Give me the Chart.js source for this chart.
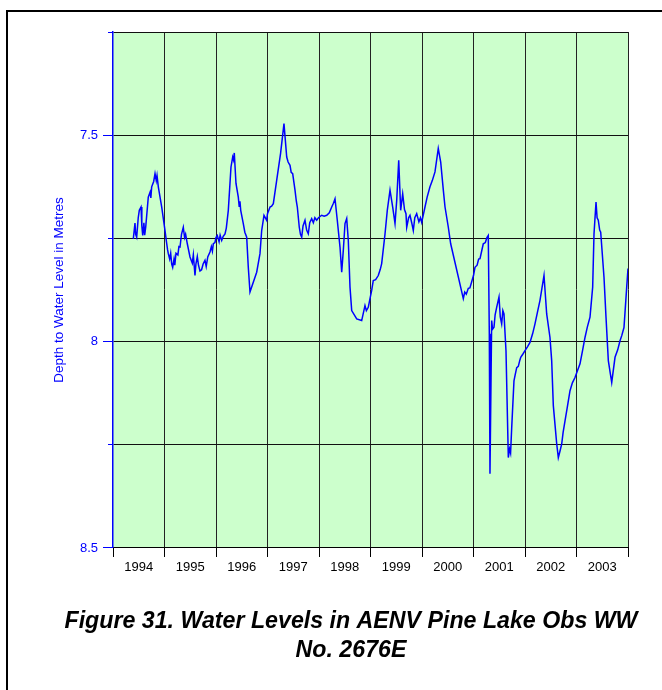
<!DOCTYPE html>
<html>
<head>
<meta charset="utf-8">
<script src="https://cdn.jsdelivr.net/npm/chart.js@4"></script>
<style>
  body { margin: 0; width: 662px; height: 690px; overflow: hidden; background: #fff; position: relative; }
  #frame { position: absolute; left: 6px; top: 10px; width: 700px; height: 700px; border-top: 2px solid #000; border-left: 2px solid #000; }
  #chart { position: absolute; left: 0; top: 0; }
</style>
</head>
<body>
<div id="frame"></div>
<canvas id="chart" width="702" height="690"></canvas>
<script>
// decimal year of each reading
var years = [
  1994.394, 1994.427, 1994.440, 1994.460, 1994.490, 1994.511, 1994.544, 1994.560, 1994.577, 1994.600,
  1994.615, 1994.635, 1994.685, 1994.720, 1994.735, 1994.751, 1994.790, 1994.816, 1994.840, 1994.855,
  1994.880, 1994.946, 1995.010, 1995.040, 1995.060, 1995.074, 1995.100, 1995.120, 1995.140, 1995.159,
  1995.185, 1995.200, 1995.223, 1995.260, 1995.280, 1995.301, 1995.330, 1995.365, 1995.390, 1995.410,
  1995.443, 1995.495, 1995.540, 1995.560, 1995.592, 1995.610, 1995.637, 1995.660, 1995.689, 1995.720,
  1995.750, 1995.786, 1995.810, 1995.840, 1995.883, 1995.910, 1995.930, 1995.948, 1995.980, 1996.000,
  1996.025, 1996.060, 1996.080, 1996.111, 1996.140, 1996.175, 1996.200, 1996.239, 1996.291, 1996.324,
  1996.340, 1996.355, 1996.388, 1996.433, 1996.450, 1996.465, 1996.480, 1996.530, 1996.560, 1996.596,
  1996.627, 1996.660, 1996.790, 1996.854, 1996.887, 1996.932, 1996.984, 1997.000, 1997.049, 1997.080,
  1997.113, 1997.179, 1997.254, 1997.320, 1997.373, 1997.400, 1997.437, 1997.460, 1997.489, 1997.534,
  1997.560, 1997.579, 1997.617, 1997.640, 1997.664, 1997.690, 1997.728, 1997.760, 1997.792, 1997.820,
  1997.858, 1997.890, 1997.920, 1997.955, 1997.990, 1998.052, 1998.100, 1998.150, 1998.200, 1998.247,
  1998.280, 1998.311, 1998.355, 1998.408, 1998.441, 1998.472, 1998.505, 1998.538, 1998.569, 1998.602,
  1998.635, 1998.732, 1998.829, 1998.893, 1998.920, 1998.957, 1999.000, 1999.023, 1999.054, 1999.100,
  1999.151, 1999.190, 1999.217, 1999.282, 1999.326, 1999.379, 1999.431, 1999.476, 1999.509, 1999.548,
  1999.586, 1999.625, 1999.660, 1999.689, 1999.703, 1999.740, 1999.767, 1999.800, 1999.831, 1999.860,
  1999.897, 1999.940, 1999.970, 1999.994, 2000.058, 2000.100, 2000.155, 2000.200, 2000.252, 2000.316,
  2000.363, 2000.414, 2000.447, 2000.511, 2000.557, 2000.802, 2000.830, 2000.860, 2000.899, 2000.930,
  2000.965, 2001.000, 2001.029, 2001.070, 2001.100, 2001.126, 2001.160, 2001.190, 2001.230, 2001.260,
  2001.287, 2001.307, 2001.320, 2001.353, 2001.370, 2001.398, 2001.420, 2001.450, 2001.495, 2001.520,
  2001.547, 2001.570, 2001.592, 2001.631, 2001.676, 2001.700, 2001.720, 2001.742, 2001.786, 2001.810,
  2001.839, 2001.870, 2001.900, 2001.917, 2001.960, 2002.000, 2002.050, 2002.097, 2002.150, 2002.194,
  2002.240, 2002.291, 2002.330, 2002.369, 2002.421, 2002.485, 2002.518, 2002.550, 2002.616, 2002.647,
  2002.680, 2002.713, 2002.740, 2002.777, 2002.820, 2002.874, 2002.920, 2002.971, 2003.020, 2003.068,
  2003.120, 2003.165, 2003.210, 2003.262, 2003.314, 2003.340, 2003.379, 2003.400, 2003.423, 2003.450,
  2003.470, 2003.534, 2003.573, 2003.618, 2003.660, 2003.684, 2003.748, 2003.800, 2003.845, 2003.880,
  2003.922, 2003.975, 2004.000
];
// depth to water level (m)
var depths = [
  7.751, 7.713, 7.740, 7.747, 7.700, 7.682, 7.674, 7.720, 7.743, 7.712,
  7.742, 7.723, 7.650, 7.638, 7.652, 7.625, 7.612, 7.593, 7.610, 7.598,
  7.625, 7.674, 7.731, 7.760, 7.778, 7.787, 7.800, 7.786, 7.812, 7.820,
  7.800, 7.815, 7.786, 7.790, 7.770, 7.771, 7.740, 7.723, 7.748, 7.740,
  7.763, 7.795, 7.810, 7.790, 7.840, 7.812, 7.794, 7.815, 7.829, 7.826,
  7.812, 7.803, 7.818, 7.795, 7.783, 7.770, 7.781, 7.763, 7.760, 7.748,
  7.743, 7.758, 7.742, 7.755, 7.745, 7.739, 7.725, 7.682, 7.577, 7.553,
  7.560, 7.543, 7.617, 7.650, 7.672, 7.660, 7.682, 7.714, 7.735, 7.747,
  7.820, 7.880, 7.832, 7.787, 7.731, 7.694, 7.706, 7.690, 7.674, 7.672,
  7.666, 7.609, 7.544, 7.472, 7.553, 7.565, 7.573, 7.590, 7.593, 7.633,
  7.660, 7.674, 7.723, 7.740, 7.747, 7.720, 7.706, 7.730, 7.739, 7.712,
  7.702, 7.712, 7.700, 7.706, 7.700, 7.694, 7.696, 7.694, 7.688, 7.674,
  7.665, 7.654, 7.706, 7.771, 7.832, 7.779, 7.714, 7.702, 7.755, 7.868,
  7.925, 7.945, 7.949, 7.913, 7.925, 7.917, 7.890, 7.876, 7.852, 7.850,
  7.840, 7.825, 7.811, 7.739, 7.682, 7.633, 7.674, 7.714, 7.658, 7.561,
  7.682, 7.642, 7.680, 7.690, 7.723, 7.700, 7.694, 7.712, 7.731, 7.700,
  7.690, 7.710, 7.700, 7.711, 7.674, 7.650, 7.625, 7.610, 7.589, 7.532,
  7.565, 7.633, 7.674, 7.723, 7.763, 7.896, 7.880, 7.885, 7.871, 7.870,
  7.855, 7.840, 7.820, 7.815, 7.800, 7.799, 7.780, 7.763, 7.760, 7.748,
  7.743, 7.981, 8.320, 7.949, 7.970, 7.965, 7.935, 7.917, 7.892, 7.940,
  7.957, 7.925, 7.933, 8.022, 8.281, 8.260, 8.270, 8.208, 8.095, 8.080,
  8.063, 8.060, 8.045, 8.038, 8.030, 8.022, 8.012, 8.002, 7.980, 7.957,
  7.930, 7.900, 7.870, 7.840, 7.933, 7.990, 8.046, 8.155, 8.248, 8.281,
  8.265, 8.248, 8.220, 8.192, 8.160, 8.119, 8.100, 8.087, 8.070, 8.054,
  8.020, 7.990, 7.965, 7.941, 7.868, 7.739, 7.662, 7.700, 7.706, 7.730,
  7.735, 7.844, 7.941, 8.046, 8.080, 8.099, 8.038, 8.020, 7.998, 7.985,
  7.966, 7.868, 7.823
];
var yearLabels = ['1994', '1995', '1996', '1997', '1998', '1999', '2000', '2001', '2002', '2003'];
var yMajor = [7.5, 8, 8.5];
var yTitle = 'Depth to Water Level in Metres';
var titleLines = ['Figure 31. Water Levels in AENV Pine Lake Obs WW', 'No. 2676E'];

var points = years.map(function (yr, i) { return { x: yr, y: depths[i] }; });

var plotBg = {
  id: 'plotBg',
  beforeDraw: function (chart) {
    var a = chart.chartArea, c = chart.ctx;
    c.save();
    c.fillStyle = '#ccffcc';
    c.fillRect(a.left, a.top, a.right - a.left, a.bottom - a.top);
    c.restore();
  }
};

var ctx = document.getElementById('chart').getContext('2d');
var chart = new Chart(ctx, {
  type: 'scatter',
  data: {
    datasets: [{
      data: points,
      showLine: true,
      borderColor: '#0000ff',
      borderWidth: 1.5,
      pointRadius: 0,
      tension: 0
    }]
  },
  options: {
    responsive: false,
    animation: false,
    devicePixelRatio: 1,
    layout: { padding: { top: 32, left: 0, right: 0, bottom: 25.5 } },
    plugins: {
      legend: { display: false },
      tooltip: { enabled: false },
      title: {
        display: true,
        position: 'bottom',
        text: titleLines,
        color: '#000',
        font: { family: 'Arial', size: 23.2, weight: 'bold', style: 'italic', lineHeight: 1.22 },
        padding: { top: 29.9, bottom: 0 }
      }
    },
    scales: {
      x: {
        type: 'linear',
        min: 1994,
        max: 2004,
        ticks: {
          stepSize: 1,
          autoSkip: false,
          maxRotation: 0,
          labelOffset: 25.75,
          padding: 3,
          color: '#000',
          font: { family: 'Arial', size: 13 },
          callback: function (v) { return yearLabels[v - 1994] || ''; }
        },
        grid: {
          color: function (c) { return c.tick && c.tick.value === 1994 ? 'rgba(0,0,0,0)' : '#222'; },
          tickColor: '#000',
          tickLength: 9,
          lineWidth: 1
        },
        border: { color: '#000', width: 1 },
        afterFit: function (s) { s.height = 30; }
      },
      y: {
        reverse: true,
        min: 7.25,
        max: 8.5,
        ticks: {
          stepSize: 0.25,
          padding: 5,
          color: '#0000ff',
          font: { family: 'Arial', size: 13 },
          callback: function (v) { return yMajor.indexOf(v) >= 0 ? String(v) : ''; }
        },
        grid: {
          color: '#111',
          tickColor: '#0000ff',
          tickLength: 10,
          // minor ticks: only the 5px next to the axis
          tickBorderDash: function (c) { return c.tick && yMajor.indexOf(c.tick.value) < 0 ? [0, 5, 5, 0] : []; }
        },
        border: { color: '#0000ff', width: 1.5 },
        title: {
          display: true,
          text: yTitle,
          color: '#0000ff',
          font: { family: 'Arial', size: 13.5 },
          padding: { top: 51, bottom: 0 }
        },
        afterFit: function (s) { s.width = 113; }
      },
      pad: {
        position: 'right',
        min: 0,
        max: 1,
        ticks: { display: false },
        grid: { display: false },
        border: { display: false },
        afterFit: function (s) { s.width = 74; }
      }
    }
  },
  plugins: [plotBg]
});
</script>
</body>
</html>
